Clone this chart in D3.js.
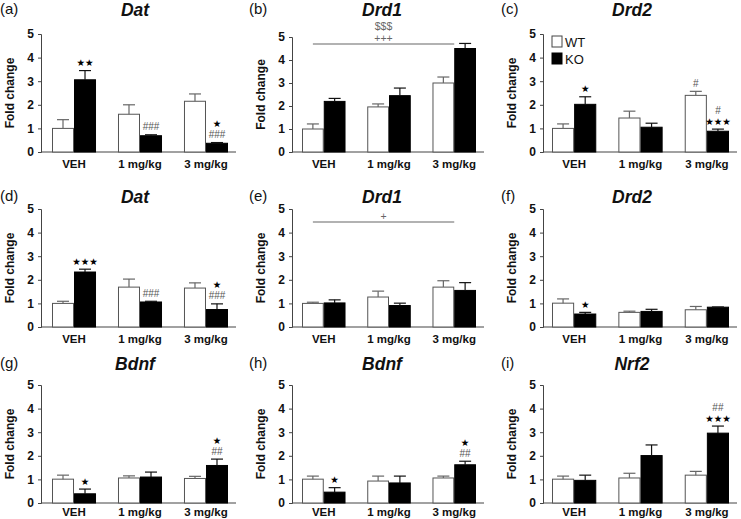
<!DOCTYPE html>
<html>
<head>
<meta charset="utf-8">
<script src="https://cdn.jsdelivr.net/npm/d3@7"></script>
<style>
  html, body { margin: 0; padding: 0; background: #fff; }
  svg { display: block; font-family: "Liberation Sans", Arial, sans-serif; }
</style>
</head>
<body>
<svg id="chart" width="741" height="519"></svg>
<script>
// ---------------- data ----------------
const categories = ["VEH", "1 mg/kg", "3 mg/kg"];
const groups = ["WT", "KO"];
const yTickValues = [0, 1, 2, 3, 4, 5];
const panelLetters = ["(a)", "(b)", "(c)", "(d)", "(e)", "(f)", "(g)", "(h)", "(i)"];
const geneNames = ["Dat", "Drd1", "Drd2", "Dat", "Drd1", "Drd2", "Bdnf", "Bdnf", "Nrf2"];
const yAxisTitle = "Fold change";

const wtMean = [
  [1.00, 1.60, 2.15], [1.00, 1.96, 3.00], [1.00, 1.44, 2.40],
  [1.00, 1.69, 1.65], [1.00, 1.27, 1.69], [1.01, 0.62, 0.73],
  [1.01, 1.06, 1.04], [1.01, 0.93, 1.06], [1.01, 1.06, 1.18]
];
const wtSem = [
  [0.37, 0.40, 0.31], [0.22, 0.13, 0.26], [0.19, 0.29, 0.17],
  [0.09, 0.34, 0.22], [0.05, 0.25, 0.27], [0.18, 0.05, 0.14],
  [0.17, 0.09, 0.09], [0.13, 0.21, 0.08], [0.13, 0.20, 0.16]
];
const koMean = [
  [3.06, 0.69, 0.37], [2.20, 2.45, 4.50], [2.02, 1.05, 0.88],
  [2.33, 1.06, 0.74], [1.02, 0.91, 1.55], [0.55, 0.66, 0.84],
  [0.39, 1.10, 1.59], [0.46, 0.85, 1.62], [0.96, 2.01, 2.96]
];
const koSem = [
  [0.39, 0.04, 0.03], [0.13, 0.33, 0.22], [0.32, 0.17, 0.09],
  [0.12, 0.03, 0.24], [0.13, 0.10, 0.33], [0.07, 0.09, 0.01],
  [0.20, 0.21, 0.27], [0.19, 0.29, 0.15], [0.22, 0.45, 0.30]
];
// significance marks: lines listed bottom -> top
const annotations = [
  [{cat: 0, grp: "KO", lines: ["★★"]}, {cat: 1, grp: "KO", lines: ["###"]}, {cat: 2, grp: "KO", lines: ["###", "★"]}],
  [],
  [{cat: 0, grp: "KO", lines: ["★"]}, {cat: 2, grp: "WT", lines: ["#"]}, {cat: 2, grp: "KO", lines: ["★★★", "#"]}],
  [{cat: 0, grp: "KO", lines: ["★★★"]}, {cat: 1, grp: "KO", lines: ["###"]}, {cat: 2, grp: "KO", lines: ["###", "★"]}],
  [],
  [{cat: 0, grp: "KO", lines: ["★"]}],
  [{cat: 0, grp: "KO", lines: ["★"]}, {cat: 2, grp: "KO", lines: ["##", "★"]}],
  [{cat: 0, grp: "KO", lines: ["★"]}, {cat: 2, grp: "KO", lines: ["##", "★"]}],
  [{cat: 2, grp: "KO", lines: ["★★★", "##"]}]
];
// overall effect bars (panel index -> level + labels bottom->top)
const effectPanels = [1, 4];
const effectLevels = [4.7, 4.45];
const effectLabels = [["+++", "$$$"], ["+"]];

// ---------------- layout ----------------
const colAxisX = [41, 292, 543];
const colBarStart = [52, 302, 552];
const colBarEnd = [228, 476, 729];
const colLetterX = [0, 249, 501];
const colTitleX = [135, 382, 632];
const rowZeroY = [152, 327, 503];
const rowTopY = [34, 209, 385];
const rowTitleY = [16, 203, 370];
const rowCatOffset = [16, 16, 13];

const svg = d3.select("#chart");

d3.range(9).forEach(i => {
  const col = i % 3, row = Math.floor(i / 3);
  const g = svg.append("g");
  const top = (i === 1) ? rowTopY[row] + 3 : rowTopY[row];
  const y = d3.scaleLinear().domain([0, 5]).range([rowZeroY[row], top]);
  const x0 = d3.scaleBand().domain(categories)
    .range([colBarStart[col], colBarEnd[col]]).paddingInner(0.333).paddingOuter(0);
  const x1 = d3.scaleBand().domain(groups).range([0, x0.bandwidth()]);
  const axisX = colAxisX[col];
  const axisEnd = colBarEnd[col] + 8;

  // letter + title
  g.append("text").attr("x", colLetterX[col]).attr("y", rowTitleY[row] - 2)
    .attr("font-size", 15).attr("fill", "#111").text(panelLetters[i]);
  g.append("text").attr("x", colTitleX[col]).attr("y", rowTitleY[row])
    .attr("text-anchor", "middle").attr("font-size", 17.5)
    .attr("font-weight", "bold").attr("font-style", "italic").attr("fill", "#111")
    .text(geneNames[i]);

  // y axis
  const yAxis = d3.axisLeft(y).tickValues(yTickValues).tickFormat(d3.format("d"))
    .tickSize(3).tickPadding(4);
  const ya = g.append("g").attr("transform", `translate(${axisX},0)`).call(yAxis);
  ya.select(".domain").attr("stroke", "#444");
  ya.selectAll(".tick line").attr("stroke", "#444");
  ya.selectAll(".tick text").attr("font-size", 12).attr("font-weight", "bold")
    .attr("font-family", "Liberation Sans, Arial, sans-serif").attr("fill", "#111");

  // x axis line + category labels
  g.append("line").attr("x1", axisX).attr("x2", axisEnd)
    .attr("y1", y(0)).attr("y2", y(0)).attr("stroke", "#444");
  g.selectAll("text.cat").data(categories).join("text").attr("class", "cat")
    .attr("x", d => x0(d) + x0.bandwidth() / 2).attr("y", y(0) + rowCatOffset[row])
    .attr("text-anchor", "middle").attr("font-size", 11.5).attr("font-weight", "bold")
    .attr("fill", "#111").text(d => d);

  // y title
  g.append("text")
    .attr("transform", `translate(${axisX - 27},${(y(0) + y(5)) / 2}) rotate(-90)`)
    .attr("text-anchor", "middle").attr("font-size", 12).attr("font-weight", "bold")
    .attr("fill", "#111").text(yAxisTitle);

  // bars
  const rows = [];
  categories.forEach((c, k) => {
    rows.push({cat: c, grp: "WT", mean: wtMean[i][k], sem: wtSem[i][k]});
    rows.push({cat: c, grp: "KO", mean: koMean[i][k], sem: koSem[i][k]});
  });
  const bx = d => x0(d.cat) + x1(d.grp);
  const cx = d => bx(d) + x1.bandwidth() / 2;

  g.selectAll("rect.bar").data(rows).join("rect").attr("class", "bar")
    .attr("x", d => bx(d) + 0.5).attr("width", x1.bandwidth() - 1)
    .attr("y", d => y(d.mean)).attr("height", d => y(0) - y(d.mean))
    .attr("fill", d => d.grp === "WT" ? "#fff" : "#000")
    .attr("stroke", d => d.grp === "WT" ? "#555" : "#000").attr("stroke-width", 1);

  // error bars (upper only)
  const eb = g.selectAll("g.err").data(rows).join("g").attr("class", "err")
    .attr("stroke", d => d.grp === "WT" ? "#666" : "#111").attr("stroke-width", 1.2);
  eb.append("line").attr("x1", cx).attr("x2", cx)
    .attr("y1", d => y(d.mean)).attr("y2", d => y(d.mean + d.sem));
  eb.append("line").attr("x1", d => cx(d) - 6).attr("x2", d => cx(d) + 6)
    .attr("y1", d => y(d.mean + d.sem)).attr("y2", d => y(d.mean + d.sem));

  // significance annotations
  annotations[i].forEach(a => {
    const r = rows.find(d => d.cat === categories[a.cat] && d.grp === a.grp);
    const base = y(r.mean + r.sem) - 4.5;
    a.lines.forEach((t, j) => {
      const isStar = t.indexOf("★") >= 0;
      g.append("text").attr("x", cx(r)).attr("y", base - j * 11)
        .attr("text-anchor", "middle")
        .attr("font-family", isStar ? "DejaVu Sans, sans-serif" : "Liberation Sans, Arial, sans-serif")
        .attr("font-size", isStar ? 9.5 : 10)
        .attr("fill", isStar ? "#000" : "#555").text(t);
    });
  });

  // overall effect line
  const ei = effectPanels.indexOf(i);
  if (ei >= 0) {
    const lvl = effectLevels[ei];
    const xa = x0(categories[0]) + x1("WT") + x1.bandwidth() / 2;
    const xb = x0(categories[2]) + x1("KO");
    g.append("line").attr("x1", xa).attr("x2", xb).attr("y1", y(lvl)).attr("y2", y(lvl))
      .attr("stroke", "#999").attr("stroke-width", 1.5);
    effectLabels[ei].forEach((t, j) => {
      g.append("text").attr("x", (xa + xb) / 2).attr("y", y(lvl) - 2 - j * 12)
        .attr("text-anchor", "middle").attr("font-size", 10.5).attr("fill", "#666").text(t);
    });
  }

  // legend in panel (c)
  if (i === 2) {
    const lg = g.append("g");
    groups.forEach((gr, j) => {
      lg.append("rect").attr("x", axisX + 9).attr("y", 36 + j * 17).attr("width", 10).attr("height", 11)
        .attr("fill", gr === "WT" ? "#fff" : "#000").attr("stroke", gr === "WT" ? "#444" : "#000");
      lg.append("text").attr("x", axisX + 22).attr("y", 46.5 + j * 17)
        .attr("font-size", 13).attr("fill", "#111").text(gr);
    });
  }
});
</script>
</body>
</html>
